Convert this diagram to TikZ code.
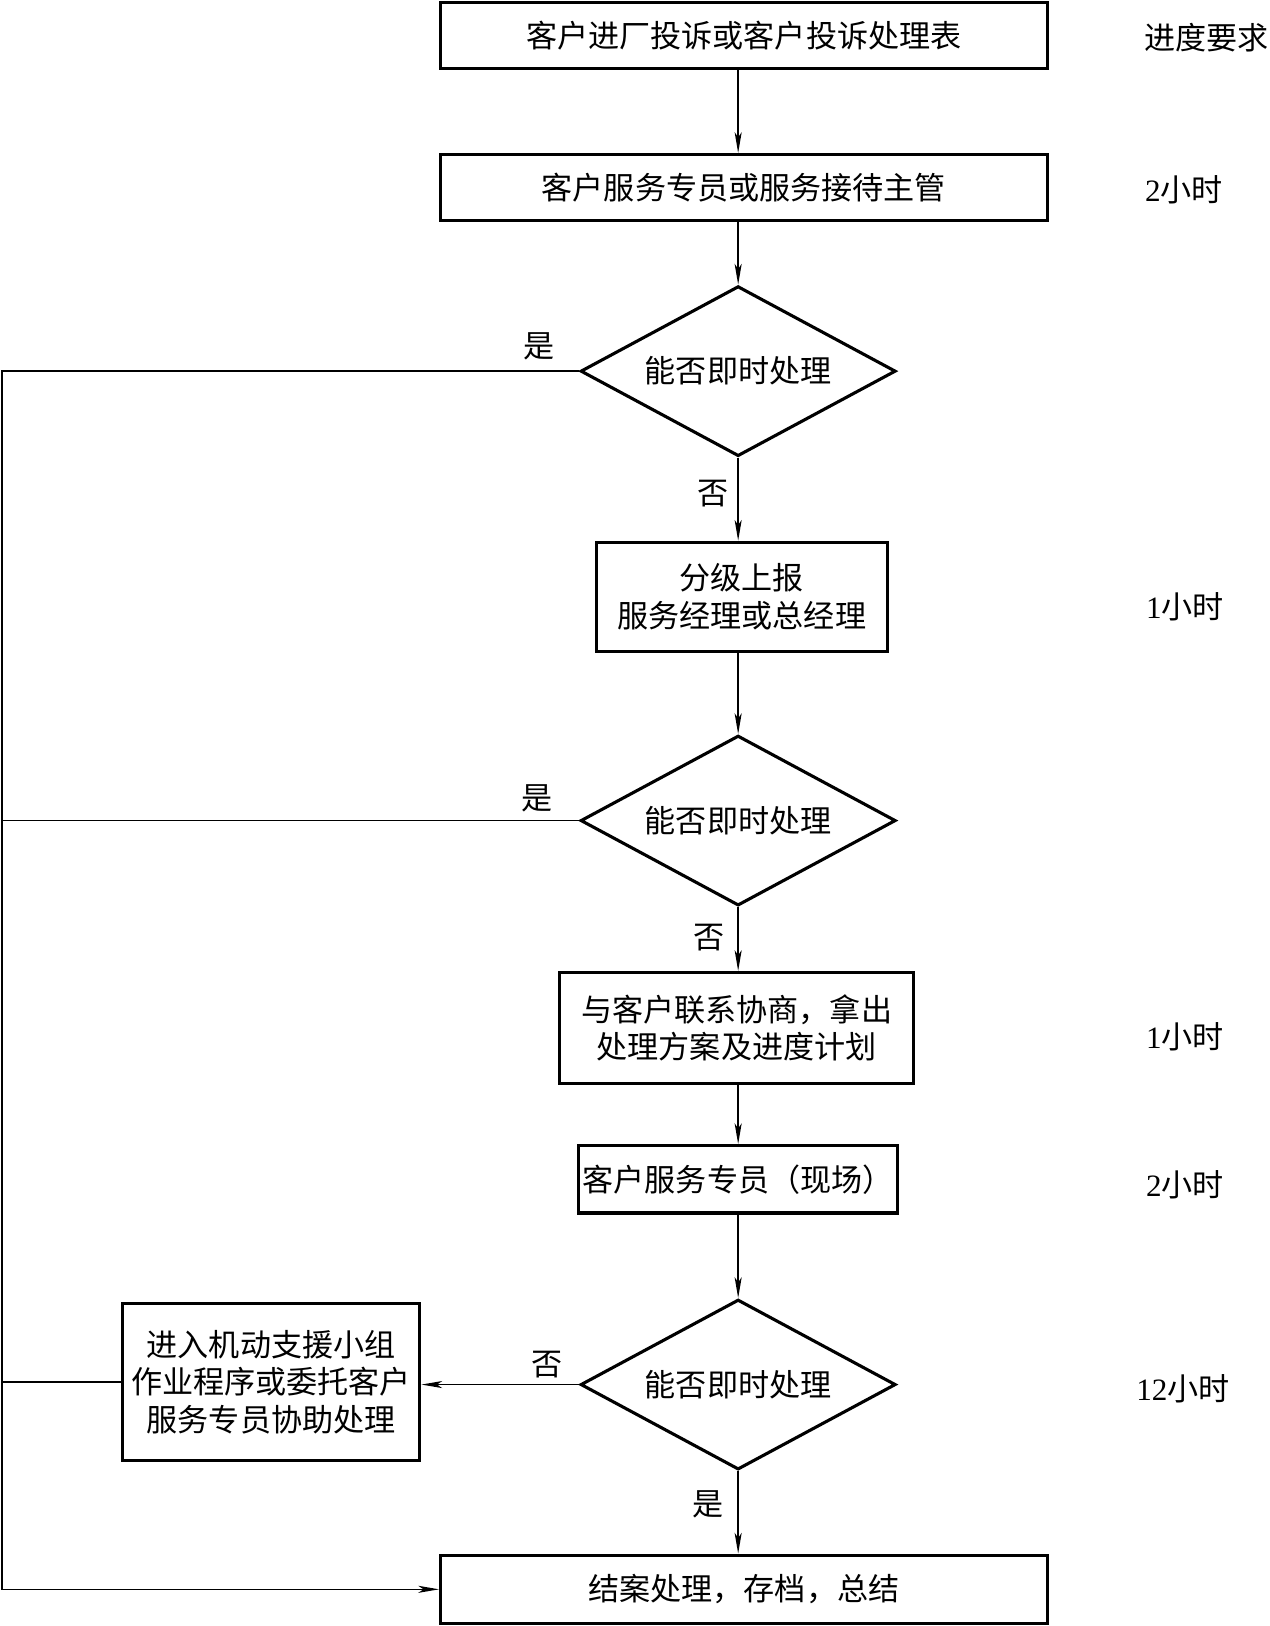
\documentclass[tikz,border=0pt]{standalone}
\usepackage{fontspec}
\setmainfont{Noto Sans CJK SC}
\newfontfamily\lat{Liberation Serif}
\usetikzlibrary{shapes.geometric,arrows.meta}
\tikzset{
  box/.style={draw, line width=1.5pt, inner sep=0pt, align=center, font=\fontsize{15}{18}\selectfont},
  dia/.style={draw, line width=1.5pt, shape=diamond, aspect=1.85, inner sep=0pt, minimum width=152pt, minimum height=82pt, font=\fontsize{15}{18}\selectfont},
  lbl/.style={inner sep=0pt, font=\fontsize{15}{18}\selectfont},
  conn/.style={line width=0.75pt},
  arr/.style={line width=0.75pt, -{Stealth[length=10pt, width=3.4pt, inset=2.5pt]}}
}
\begin{document}
\begin{tikzpicture}[x=0.5pt, y=-0.5pt]
\useasboundingbox (0,0) rectangle (1225,1568.4);
% boxes
\node[box, minimum width=292.5pt, minimum height=32pt] (b1) at (717.5,34) {客户进厂投诉或客户投诉处理表};
\node[box, minimum width=292.5pt, minimum height=32pt] (b2) at (717.5,181) {客户服务专员或服务接待主管};
\node[dia] (d1) at (712,358) {能否即时处理};
\node[box, minimum width=140.5pt, minimum height=52.5pt] (b3) at (715.5,575.5) {分级上报\\服务经理或总经理};
\node[dia] (d2) at (712,791.5) {能否即时处理};
\node[box, minimum width=170.5pt, minimum height=53.5pt] (b4) at (710.5,991.5) {与客户联系协商，拿出\\处理方案及进度计划};
\node[box, minimum width=154pt, minimum height=32.5pt] (b5) at (712,1137.5) {客户服务专员（现场）};
\node[dia] (d3) at (712,1335.5) {能否即时处理};
\node[box, minimum width=143.5pt, minimum height=76pt] (b6) at (261.5,1333) {进入机动支援小组\\作业程序或委托客户\\服务专员协助处理};
\node[box, minimum width=292.5pt, minimum height=33pt] (b7) at (717.5,1533) {结案处理，存档，总结};
% right column
\node[lbl] (t0) at (1164,36) {进度要求};
\node[lbl] (t1) at (1142,183) {{\lat 2}小时};
\node[lbl] (t2) at (1143,585) {{\lat 1}小时};
\node[lbl] (t3) at (1143,1000) {{\lat 1}小时};
\node[lbl] (t4) at (1143,1143) {{\lat 2}小时};
\node[lbl] (t5) at (1141,1340) {{\lat 12}小时};
% labels
\node[lbl] (y1) at (520,334) {是};
\node[lbl] (n1) at (688,476) {否};
\node[lbl] (y2) at (518,770) {是};
\node[lbl] (n2) at (684,904) {否};
\node[lbl] (n3) at (528,1316) {否};
\node[lbl] (y3) at (683,1451) {是};
% coordinates on the left return line
\coordinate (L1) at (2,358);
\coordinate (L2) at (2,791.5);
\coordinate (L3) at (2,1333);
\coordinate (L4) at (2,1533);
% connectors (vertical axis through the diamonds)
\draw[arr] (b1.south -| d1) -- (b2.north -| d1);
\draw[arr] (b2.south -| d1) -- (d1.north);
\draw[arr] (d1.south) -- (b3.north -| d1);
\draw[arr] (b3.south -| d1) -- (d2.north);
\draw[arr] (d2.south) -- (b4.north -| d2);
\draw[arr] (b4.south -| d2) -- (b5.north -| d2);
\draw[arr] (b5.south -| d3) -- (d3.north);
\draw[arr] (d3.west) -- (b6.east |- d3.west);
\draw[arr] (d3.south) -- (b7.north -| d3);
\draw[arr] (d1.west) -- (L1) -- (L4) -- (b7.west);
\draw[conn] (d2.west) -- (L2);
\draw[conn] (b6.west) -- (L3);
\end{tikzpicture}
\end{document}
